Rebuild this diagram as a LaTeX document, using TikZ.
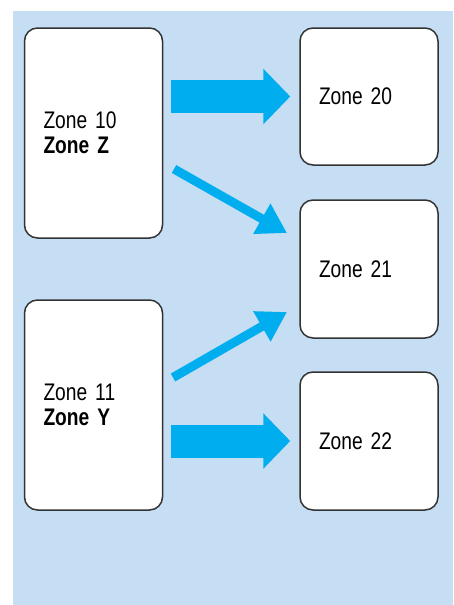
\documentclass[tikz,border=0pt]{standalone}
\usepackage{fontspec}
\setmainfont{Liberation Sans}[FakeStretch=0.8,WordSpace=0.7]
\usetikzlibrary{arrows.meta}
\definecolor{bgblue}{HTML}{C6DEF4}
\definecolor{arrblue}{HTML}{00AEEF}
\definecolor{edge}{HTML}{333333}
\tikzset{
  zone/.style={draw=edge, line width=1.5pt, fill=white, rounded corners=13pt,
    text width=100pt, inner xsep=19pt, inner ysep=0pt, align=left,
    font=\fontsize{24pt}{25pt}\selectfont},
  fatarrow/.style={draw=arrblue, line width=33pt,
    -{Triangle[length=27pt,width=54pt]}},
  thinarrow/.style={draw=arrblue, line width=9pt,
    -{Triangle[length=29pt,width=33pt]}}
}
\begin{document}
\begin{tikzpicture}[x=1pt,y=-1pt]
\useasboundingbox (0,0) rectangle (453,605);
\fill[bgblue] (13,11) rectangle (453,605);
\node[zone, minimum height=210pt] (z10) at (93.5,133) {Zone 10\\\textbf{Zone Z}};
\node[zone, minimum height=210pt] (z11) at (93.5,405) {Zone 11\\\textbf{Zone Y}};
\node[zone, minimum height=137pt] (z20) at (369,96.5) {Zone 20};
\node[zone, minimum height=138pt] (z21) at (369,269) {Zone 21};
\node[zone, minimum height=138pt] (z22) at (369,441) {Zone 22};
\draw[fatarrow] ([xshift=8pt]z10.east |- z20.west) -- ([xshift=-9pt]z20.west);
\draw[fatarrow] ([xshift=8pt]z11.east |- z22.west) -- ([xshift=-9pt]z22.west);
\coordinate (d1s) at (174,169);
\coordinate (d1e) at (287,233);
\coordinate (d2s) at (173,377.5);
\coordinate (d2e) at (287,312);
\draw[thinarrow] (d1s) -- (d1e);
\draw[thinarrow] (d2s) -- (d2e);
\end{tikzpicture}
\end{document}
